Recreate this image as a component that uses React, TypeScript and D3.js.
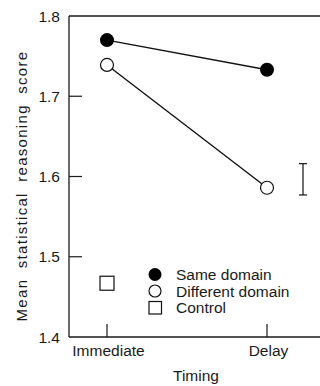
import React from "react";
import * as d3 from "d3";

const timings = ["Immediate", "Delay"];
const sameDomain = [1.77, 1.733];
const differentDomain = [1.739, 1.586];
const controlValue = 1.467;
const errorBar = [1.577, 1.616];
const yTicks = [1.4, 1.5, 1.6, 1.7, 1.8];
const legendItems = ["Same domain", "Different domain", "Control"];

const W = 320;
const H = 386;
const margin = { top: 16, right: 0, bottom: 49, left: 69 };

const App = () => {
  const x = d3.scalePoint().domain(timings).range([107, 267]);
  const y = d3.scaleLinear().domain([1.4, 1.8]).range([H - margin.bottom, margin.top]);
  const line = d3.line<number>().x((_, i) => x(timings[i])!).y((d) => y(d));
  const font = "'Liberation Sans', Arial, sans-serif";
  const errX = 303;
  const ink = "#1a1a1a";

  return (
    <svg width={W} height={H} style={{ position: "absolute", left: 0, top: 0, background: "#fff" }} fontFamily={font}>
      {/* frame */}
      <line x1={margin.left} x2={W} y1={y(1.8)} y2={y(1.8)} stroke={ink} strokeWidth={1.3} />
      <line x1={margin.left} x2={W} y1={y(1.4)} y2={y(1.4)} stroke={ink} strokeWidth={1.3} />
      <line x1={margin.left} x2={margin.left} y1={y(1.8)} y2={y(1.4)} stroke={ink} strokeWidth={1.3} />

      {/* y ticks */}
      {yTicks.map((t) => (
        <g key={t}>
          {t > 1.4 && t < 1.8 && (
            <line x1={margin.left} x2={margin.left + 13} y1={y(t)} y2={y(t)} stroke={ink} strokeWidth={1.2} />
          )}
          <text x={60} y={y(t)} dy="0.36em" textAnchor="end" fontSize={15.5} fill={ink}>
            {t.toFixed(1)}
          </text>
        </g>
      ))}

      {/* x ticks */}
      {timings.map((t) => (
        <g key={t}>
          <line x1={x(t)} x2={x(t)} y1={y(1.4)} y2={y(1.4) - 13} stroke={ink} strokeWidth={1.2} />
          <text x={x(t)! + 1.5} y={356} textAnchor="middle" fontSize={15.5} fill={ink}>
            {t}
          </text>
        </g>
      ))}

      <text x={196} y={381} textAnchor="middle" fontSize={15.5} fill={ink}>Timing</text>
      <text
        transform={`translate(26.5,${186}) rotate(-90)`}
        textAnchor="middle"
        fontSize={15}
        fill={ink}
        letterSpacing={1.3}
        wordSpacing={5}
      >
        Mean statistical reasoning score
      </text>

      {/* lines */}
      <path d={line(sameDomain)!} fill="none" stroke="#111" strokeWidth={1.4} />
      <path d={line(differentDomain)!} fill="none" stroke="#111" strokeWidth={1.4} />

      {sameDomain.map((v, i) => (
        <circle key={"s" + i} cx={x(timings[i])} cy={y(v)} r={7} fill="#000" />
      ))}
      {differentDomain.map((v, i) => (
        <circle key={"d" + i} cx={x(timings[i])} cy={y(v)} r={6.5} fill="#fff" stroke="#111" strokeWidth={1.2} />
      ))}
      <rect x={x("Immediate")! - 7} y={y(controlValue) - 7} width={14} height={14} fill="#fff" stroke="#111" strokeWidth={1.2} />

      {/* error bar */}
      <line x1={errX} x2={errX} y1={y(errorBar[0])} y2={y(errorBar[1])} stroke="#111" strokeWidth={1.2} />
      <line x1={errX - 4} x2={errX + 4} y1={y(errorBar[0])} y2={y(errorBar[0])} stroke="#111" strokeWidth={1.2} />
      <line x1={errX - 4} x2={errX + 4} y1={y(errorBar[1])} y2={y(errorBar[1])} stroke="#111" strokeWidth={1.2} />

      {/* legend */}
      {legendItems.map((name, i) => {
        const cy = 274.5 + i * 16.5;
        return (
          <g key={name}>
            {i === 0 && <circle cx={155} cy={cy} r={6.5} fill="#000" />}
            {i === 1 && <circle cx={155} cy={cy} r={6} fill="#fff" stroke="#111" strokeWidth={1.2} />}
            {i === 2 && <rect x={149} y={cy - 6} width={12.5} height={12.5} fill="#fff" stroke="#111" strokeWidth={1.2} />}
            <text x={176} y={cy} dy="0.36em" fontSize={15.5} fill={ink}>{name}</text>
          </g>
        );
      })}
    </svg>
  );
};

export default App;
